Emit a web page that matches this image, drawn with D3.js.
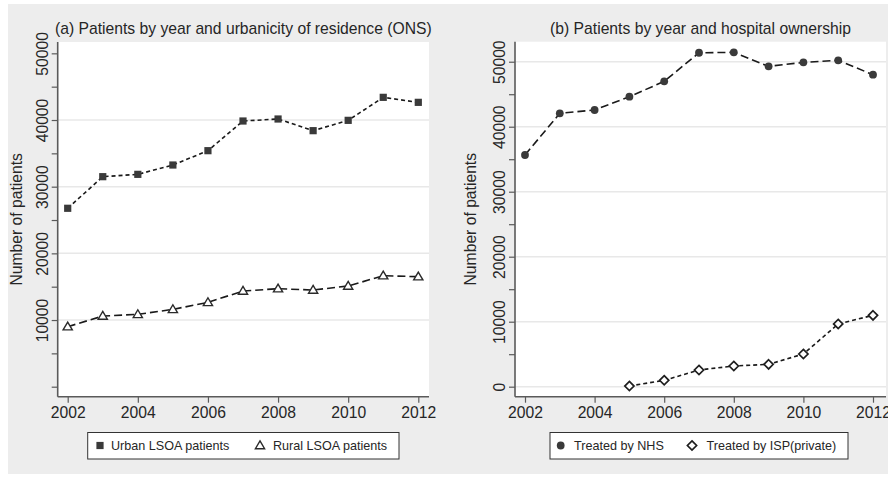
<!DOCTYPE html>
<html>
<head>
<meta charset="utf-8">
<script src="https://cdn.jsdelivr.net/npm/d3@7"></script>
<style>
  html, body { margin: 0; padding: 0; background: #ffffff; }
  svg { display: block; font-family: "Liberation Sans", Arial, sans-serif; }
</style>
</head>
<body>
<svg id="chart" width="888" height="479"></svg>
<script>
// ---- data ----
const years = [2002, 2003, 2004, 2005, 2006, 2007, 2008, 2009, 2010, 2011, 2012];
const urbanPatients = [26760, 31500, 31850, 33250, 35400, 39850, 40150, 38400, 39950, 43400, 42650];
const ruralPatients = [9000, 10600, 10850, 11600, 12650, 14350, 14700, 14500, 15100, 16650, 16500];
const nhsPatients = [35650, 42060, 42570, 44620, 46980, 51380, 51440, 49290, 49900, 50210, 48000];
const ispYears = [2005, 2006, 2007, 2008, 2009, 2010, 2011, 2012];
const ispPatients = [100, 980, 2570, 3180, 3440, 5030, 9650, 10980];

const xTickValues = [2002, 2004, 2006, 2008, 2010, 2012];
const leftYLabels = [10000, 20000, 30000, 40000, 50000];
const leftYMinor = [0, 5000, 15000, 25000, 35000, 45000];
const leftGrid = [10000, 20000, 30000, 40000];
const rightYLabels = [0, 10000, 20000, 30000, 40000, 50000];
const rightYMinor = [5000, 15000, 25000, 35000, 45000];
const rightGrid = [0, 10000, 20000, 30000, 40000, 50000];

const titleA = "(a) Patients by year and urbanicity of residence (ONS)";
const titleB = "(b) Patients by year and hospital ownership";
const yTitle = "Number of patients";
const legendA = ["Urban LSOA patients", "Rural LSOA patients"];
const legendB = ["Treated by NHS", "Treated by ISP(private)"];

// ---- drawing ----
const svg = d3.select("#chart");
const FONT = 15.7;
const TXT = "#262626";
const AXIS = "#5a5a5a";

svg.append("rect").attr("x", 8).attr("y", 4).attr("width", 880).attr("height", 470).attr("fill", "#ededed");

function markerPath(type, size) {
  const sym = {
    square: d3.symbolSquare,
    triangle: d3.symbolTriangle,
    circle: d3.symbolCircle,
    diamond: d3.symbolDiamond
  }[type];
  return d3.symbol().type(sym).size(size)();
}

function drawMarker(g, type, x, y) {
  if (type === "square") {
    g.append("rect").attr("x", x - 3.6).attr("y", y - 3.6).attr("width", 7.2).attr("height", 7.2)
      .attr("fill", "#3a3a3a");
  } else if (type === "circle") {
    g.append("circle").attr("cx", x).attr("cy", y).attr("r", 3.9).attr("fill", "#3a3a3a");
  } else if (type === "triangle") {
    const s = 4.6;
    g.append("path").attr("d", `M${x},${y - s}L${x + s * 1.0},${y + s * 0.7}L${x - s * 1.0},${y + s * 0.7}Z`)
      .attr("fill", "#ffffff").attr("stroke", "#2a2a2a").attr("stroke-width", 1.4);
  } else if (type === "diamond") {
    const s = 4.6;
    g.append("path").attr("d", `M${x},${y - s}L${x + s},${y}L${x},${y + s}L${x - s},${y}Z`)
      .attr("fill", "#ffffff").attr("stroke", "#1e1e1e").attr("stroke-width", 1.7);
  }
}

function drawPanel(cfg) {
  const g = svg.append("g");
  const x = d3.scaleLinear().domain([2002, 2012]).range(cfg.xRange);
  const y = d3.scaleLinear().domain(cfg.yDomain).range([cfg.bottom, cfg.top]);

  // plot region
  g.append("rect").attr("x", cfg.left).attr("y", cfg.top)
    .attr("width", cfg.right - cfg.left).attr("height", cfg.bottom - cfg.top).attr("fill", "#ffffff");

  // gridlines
  g.selectAll(".grid").data(cfg.grid).join("line")
    .attr("x1", cfg.left).attr("x2", cfg.right)
    .attr("y1", d => y(d)).attr("y2", d => y(d))
    .attr("stroke", "#e8e8e8").attr("stroke-width", 1.5);

  // y axis
  const yAxis = g.append("g").attr("transform", `translate(${cfg.left},0)`)
    .call(d3.axisLeft(y).tickValues(cfg.yLabels).tickSize(6).tickSizeOuter(0).tickFormat(d3.format("d")));
  yAxis.select(".domain").remove();
  yAxis.selectAll(".tick line").attr("stroke", AXIS).attr("stroke-width", 1.2);
  yAxis.selectAll(".tick text")
    .attr("x", null).attr("dy", null)
    .attr("transform", "translate(-10,0) rotate(-90)")
    .attr("text-anchor", "middle")
    .attr("font-size", FONT).attr("fill", TXT)
    .attr("font-family", "Liberation Sans, Arial, sans-serif");
  g.append("g").attr("transform", `translate(${cfg.left},0)`)
    .call(d3.axisLeft(y).tickValues(cfg.yMinor).tickSize(6).tickFormat(""))
    .call(a => a.select(".domain").remove())
    .call(a => a.selectAll(".tick line").attr("stroke", AXIS).attr("stroke-width", 1.2));
  g.append("line").attr("x1", cfg.left).attr("x2", cfg.left).attr("y1", cfg.top).attr("y2", cfg.bottom)
    .attr("stroke", AXIS).attr("stroke-width", 1.6);

  // x axis
  const xAxis = g.append("g").attr("transform", `translate(0,${cfg.bottom})`)
    .call(d3.axisBottom(x).tickValues(xTickValues).tickSize(6).tickFormat(d3.format("d")));
  xAxis.select(".domain").remove();
  xAxis.selectAll(".tick line").attr("stroke", AXIS).attr("stroke-width", 1.2);
  xAxis.selectAll(".tick text").attr("y", 21.8).attr("dy", null)
    .attr("font-size", FONT).attr("fill", TXT)
    .attr("font-family", "Liberation Sans, Arial, sans-serif");
  g.append("line").attr("x1", cfg.left).attr("x2", cfg.right).attr("y1", cfg.bottom).attr("y2", cfg.bottom)
    .attr("stroke", AXIS).attr("stroke-width", 1.6);

  // y title
  g.append("text").attr("transform", `translate(${cfg.yTitleX},${(cfg.top + cfg.bottom) / 2}) rotate(-90)`)
    .attr("text-anchor", "middle").attr("font-size", FONT).attr("fill", TXT).text(yTitle);

  // title
  g.append("text").attr("x", (cfg.left + cfg.right) / 2).attr("y", 34)
    .attr("text-anchor", "middle").attr("font-size", FONT).attr("fill", TXT).text(cfg.title);

  // series
  cfg.series.forEach(s => {
    const pts = s.xs.map((xv, i) => [x(xv), y(s.ys[i])]);
    g.append("path").attr("d", d3.line()(pts)).attr("fill", "none")
      .attr("stroke", "#1a1a1a").attr("stroke-width", 1.6).attr("stroke-dasharray", s.dash);
    pts.forEach(p => drawMarker(g, s.marker, p[0], p[1]));
  });

  // legend
  const lg = g.append("g");
  lg.append("rect").attr("x", cfg.legend.x).attr("y", 432.5).attr("width", cfg.legend.w).attr("height", 26.5)
    .attr("fill", "#ffffff").attr("stroke", "#333333").attr("stroke-width", 1);
  cfg.series.forEach((s, i) => {
    const it = cfg.legend.items[i];
    drawMarker(lg, s.marker, it.mx, 445.5);
    lg.append("text").attr("x", it.tx).attr("y", 450).attr("font-size", 12.6).attr("fill", TXT).text(s.label);
  });
}

drawPanel({
  left: 57.7, right: 429, top: 42, bottom: 396.7,
  xRange: [67.7, 418.3], yDomain: [-1500, 51700],
  yLabels: leftYLabels, yMinor: leftYMinor, grid: leftGrid,
  yTitleX: 21.5, title: titleA,
  series: [
    { xs: years, ys: urbanPatients, marker: "square", dash: "4,3", label: legendA[0] },
    { xs: years, ys: ruralPatients, marker: "triangle", dash: "8,4", label: legendA[1] }
  ],
  legend: { x: 87.7, w: 311.3, items: [{ mx: 100, tx: 111 }, { mx: 260, tx: 273 }] }
});

drawPanel({
  left: 515, right: 886, top: 41.7, bottom: 396.7,
  xRange: [525, 873], yDomain: [-1540, 53080],
  yLabels: rightYLabels, yMinor: rightYMinor, grid: rightGrid,
  yTitleX: 476, title: titleB,
  series: [
    { xs: years, ys: nhsPatients, marker: "circle", dash: "8,4", label: legendB[0] },
    { xs: ispYears, ys: ispPatients, marker: "diamond", dash: "4,3", label: legendB[1] }
  ],
  legend: { x: 550, w: 298, items: [{ mx: 560.7, tx: 574 }, { mx: 692, tx: 706.5 }] }
});
</script>
</body>
</html>
